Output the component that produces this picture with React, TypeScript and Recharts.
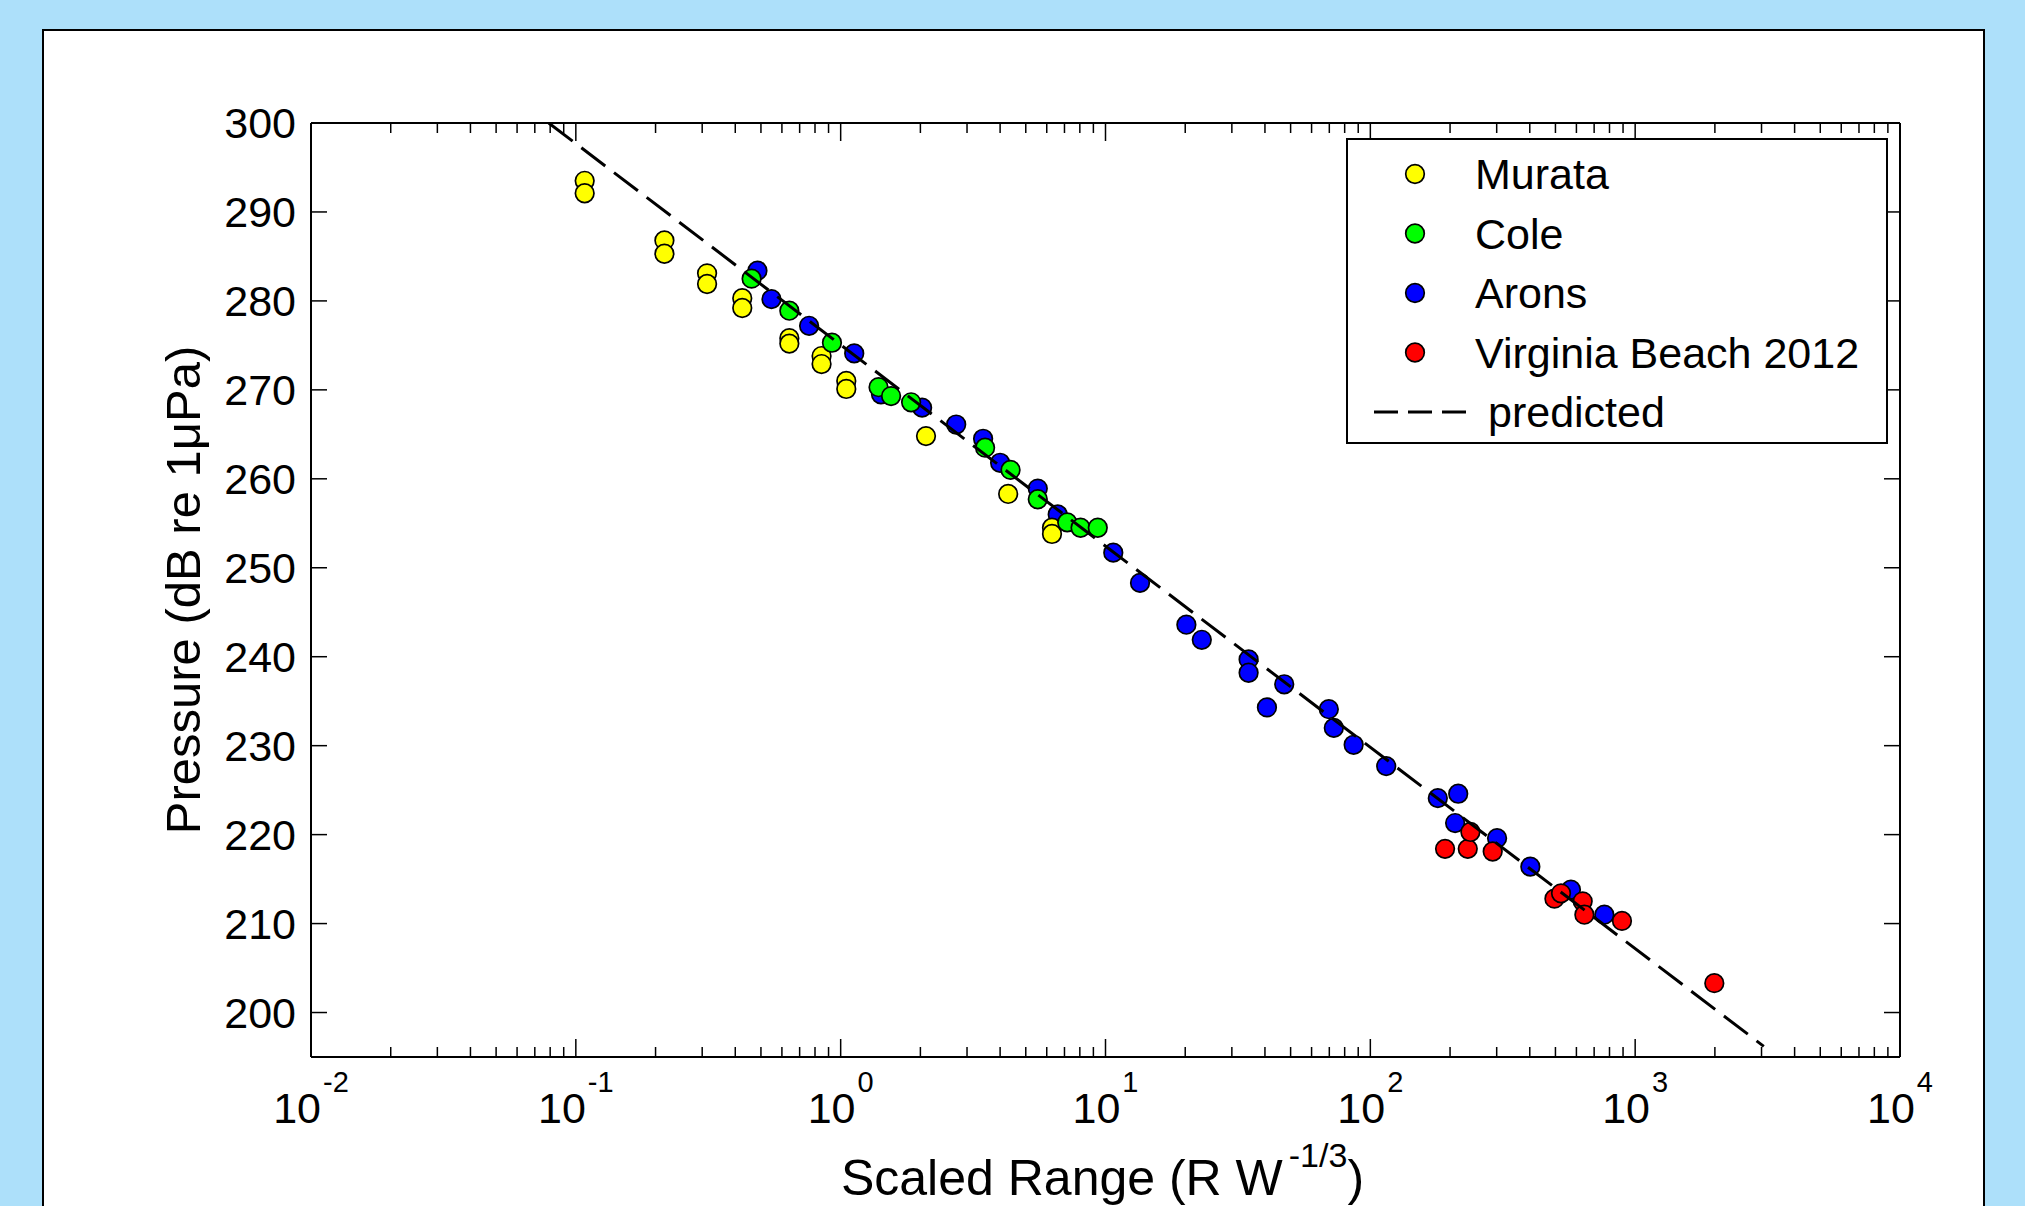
import React from 'react';
import { ScatterChart, Scatter, XAxis, YAxis, Legend } from 'recharts';

// ---------- data ----------
const murataX = [0.108, 0.108, 0.216, 0.216, 0.313, 0.313, 0.425, 0.425, 0.64, 0.64, 0.847, 0.847, 1.05, 1.05, 2.1, 4.29, 6.28, 6.28];
const murataY = [293.5, 292.1, 286.8, 285.3, 283.1, 281.9, 280.3, 279.2, 275.8, 275.2, 273.8, 272.9, 271.0, 270.1, 264.8, 258.3, 254.5, 253.8];

const coleX = [0.461, 0.64, 0.927, 1.39, 1.55, 1.845, 3.51, 4.38, 5.55, 7.17, 8.05, 9.35];
const coleY = [282.5, 278.9, 275.3, 270.3, 269.3, 268.6, 263.5, 261.0, 257.7, 255.1, 254.5, 254.5];

const aronsX = [0.485, 0.548, 0.76, 1.125, 1.42, 2.03, 2.73, 3.45, 4.0, 5.55, 6.6, 10.7, 13.5, 20.2, 23.1, 34.7, 34.7, 40.7, 47.3, 69.7, 72.8, 86.5, 114.8, 179.8, 214.7, 209, 301, 402, 572, 765];
const aronsY = [283.4, 280.2, 277.2, 274.1, 269.5, 268.0, 266.1, 264.5, 261.8, 258.9, 256.0, 251.7, 248.3, 243.6, 241.9, 239.7, 238.2, 234.3, 236.9, 234.1, 232.0, 230.1, 227.7, 224.1, 224.6, 221.3, 219.6, 216.4, 213.8, 211.0];

const vbX = [191.5, 233.3, 238.7, 289.8, 495.6, 524.8, 633.6, 643, 891.6, 1990];
const vbY = [218.4, 218.4, 220.3, 218.1, 212.8, 213.4, 212.5, 211.0, 210.3, 203.3];

const predictedX = [0.079, 3060];
const predictedY = [300.0, 196.2];

const seriesNames = ['Murata', 'Cole', 'Arons', 'Virginia Beach 2012'];
const seriesColors = ['#FFFF00', '#00FF00', '#0000FF', '#FF0000'];
const predictedName = 'predicted';

const xDomain: [number, number] = [0.01, 10000];
const yDomain: [number, number] = [195, 300];
const xDecades = [-2, -1, 0, 1, 2, 3];
const xMinorMultipliers = [1, 2, 3, 4, 5, 6, 7, 8, 9];
const yTicks = [200, 210, 220, 230, 240, 250, 260, 270, 280, 290, 300];

const xLabelMain = 'Scaled Range (R W';
const xLabelSup = '-1/3';
const xLabelEnd = ')';
const yLabel = 'Pressure (dB re 1\u03BCPa)';

// ---------- derived ----------
const toPoints = (xs: number[], ys: number[]) => xs.map((x, i) => ({ x, y: ys[i] }));
const murata = toPoints(murataX, murataY);
const cole = toPoints(coleX, coleY);
const arons = toPoints(aronsX, aronsY);
const vb = toPoints(vbX, vbY);
const predicted = toPoints(predictedX, predictedY);

const xTicks: number[] = [];
xDecades.forEach((d) => xMinorMultipliers.forEach((m) => xTicks.push(Number((m * Math.pow(10, d)).toPrecision(6)))));
xTicks.push(xDomain[1]);

const FONT = '"Liberation Sans", Arial, Helvetica, sans-serif';
const TICK_FS = 43;

const isMajor = (v: number) => {
  const l = Math.log10(v);
  return Math.abs(l - Math.round(l)) < 1e-6;
};

const BottomTick = (props: any) => {
  const { x, y, payload } = props;
  const v = payload.value;
  const major = isMajor(v);
  const exp = Math.round(Math.log10(v));
  return (
    <g>
      <line x1={x} x2={x} y1={y} y2={y - (major ? 18 : 10)} stroke="#000" strokeWidth={1.5} />
      {major && (
        <text x={x} y={y + 66} textAnchor="middle" fontFamily={FONT} fontSize={TICK_FS} fill="#000">
          <tspan>10</tspan>
          <tspan dx={2} dy={-31} fontSize={29}>{String(exp)}</tspan>
        </text>
      )}
    </g>
  );
};

const TopTick = (props: any) => {
  const { x, y, payload } = props;
  const major = isMajor(payload.value);
  return <line x1={x} x2={x} y1={y} y2={y + (major ? 18 : 10)} stroke="#000" strokeWidth={1.5} />;
};

const LeftTick = (props: any) => {
  const { x, y, payload } = props;
  return (
    <g>
      <line x1={x} x2={x + 16} y1={y} y2={y} stroke="#000" strokeWidth={1.5} />
      <text x={x - 15} y={y} dy="0.36em" textAnchor="end" fontFamily={FONT} fontSize={TICK_FS} fill="#000">
        {payload.value}
      </text>
    </g>
  );
};

const RightTick = (props: any) => {
  const { x, y } = props;
  return <line x1={x} x2={x - 16} y1={y} y2={y} stroke="#000" strokeWidth={1.5} />;
};

const XLabel = (props: any) => {
  const vbx = props.viewBox || { x: 311, y: 1057, width: 1589, height: 1 };
  const cx = vbx.x + vbx.width / 2 - 3;
  const y = vbx.y + 138;
  return (
    <text x={cx} y={y} textAnchor="middle" fontFamily={FONT} fontSize={50} fill="#000">
      <tspan>{xLabelMain}</tspan>
      <tspan dx={6} dy={-28} fontSize={34}>{xLabelSup}</tspan>
      <tspan dy={28} fontSize={50}>{xLabelEnd}</tspan>
    </text>
  );
};

const YLabel = (props: any) => {
  const vby = props.viewBox || { x: 310, y: 123, width: 1, height: 934 };
  const x = vby.x - 110;
  const y = vby.y + vby.height / 2;
  return (
    <text x={x} y={y} transform={`rotate(-90, ${x}, ${y})`} textAnchor="middle" fontFamily={FONT} fontSize={49} fill="#000">
      {yLabel}
    </text>
  );
};

const makeDot = (color: string) => (props: any) => (
  <circle cx={props.cx} cy={props.cy} r={9.3} fill={color} stroke="#000" strokeWidth={1.7} />
);

const LegendBox = () => {
  const rowY = (i: number) => 36 + i * 59.5;
  return (
    <svg width={542} height={306} style={{ display: 'block', overflow: 'visible' }}>
      <rect x={1} y={1} width={540} height={304} fill="#fff" stroke="#000" strokeWidth={2} />
      {seriesNames.map((name, i) => (
        <g key={name}>
          <circle cx={69} cy={rowY(i)} r={9.3} fill={seriesColors[i]} stroke="#000" strokeWidth={1.7} />
          <text x={129} y={rowY(i)} dy="0.36em" fontFamily={FONT} fontSize={43} fill="#000">
            {name}
          </text>
        </g>
      ))}
      <line x1={28} x2={120} y1={rowY(4)} y2={rowY(4)} stroke="#000" strokeWidth={3} strokeDasharray="24 10" />
      <text x={142} y={rowY(4)} dy="0.36em" fontFamily={FONT} fontSize={43} fill="#000">
        {predictedName}
      </text>
    </svg>
  );
};

const axisLineStyle = { stroke: '#000', strokeWidth: 2 };

export default function App() {
  return (
    <div style={{ position: 'absolute', left: 0, top: 0, width: 2025, height: 1206, background: '#ADE0FA', overflow: 'hidden' }}>
      <div
        style={{
          position: 'absolute',
          left: 42,
          top: 29,
          width: 1943,
          height: 1220,
          background: '#fff',
          border: '2px solid #000',
          boxSizing: 'border-box',
        }}
      />
      <div style={{ position: 'absolute', left: 0, top: 0 }}>
        <ScatterChart width={2025} height={1206} margin={{ top: 122, left: 310, right: 124, bottom: 148 }}>
          <XAxis
            dataKey="x"
            type="number"
            scale="log"
            domain={xDomain}
            allowDataOverflow
            ticks={xTicks}
            interval={0}
            height={1}
            tickSize={0}
            tickMargin={0}
            tickLine={false}
            axisLine={axisLineStyle}
            tick={<BottomTick />}
            label={<XLabel />}
          />
          <XAxis
            xAxisId="top"
            orientation="top"
            dataKey="x"
            type="number"
            scale="log"
            domain={xDomain}
            allowDataOverflow
            ticks={xTicks}
            interval={0}
            height={1}
            tickSize={0}
            tickMargin={0}
            tickLine={false}
            axisLine={axisLineStyle}
            tick={<TopTick />}
          />
          <YAxis
            dataKey="y"
            type="number"
            domain={yDomain}
            allowDataOverflow
            ticks={yTicks}
            interval={0}
            width={1}
            tickSize={0}
            tickMargin={0}
            tickLine={false}
            axisLine={axisLineStyle}
            tick={<LeftTick />}
            label={<YLabel />}
          />
          <YAxis
            yAxisId="right"
            orientation="right"
            dataKey="y"
            type="number"
            domain={yDomain}
            allowDataOverflow
            ticks={yTicks}
            interval={0}
            width={1}
            tickSize={0}
            tickMargin={0}
            tickLine={false}
            axisLine={axisLineStyle}
            tick={<RightTick />}
          />
          <Scatter name={seriesNames[2]} data={arons} fill={seriesColors[2]} shape={makeDot(seriesColors[2])} isAnimationActive={false} />
          <Scatter name={seriesNames[0]} data={murata} fill={seriesColors[0]} shape={makeDot(seriesColors[0])} isAnimationActive={false} />
          <Scatter name={seriesNames[1]} data={cole} fill={seriesColors[1]} shape={makeDot(seriesColors[1])} isAnimationActive={false} />
          <Scatter name={seriesNames[3]} data={vb} fill={seriesColors[3]} shape={makeDot(seriesColors[3])} isAnimationActive={false} />
          <Scatter
            name={predictedName}
            data={predicted}
            xAxisId="top"
            yAxisId="right"
            fill="#000"
            line={{ stroke: '#000', strokeWidth: 3, strokeDasharray: '30 11' }}
            shape={() => <g />}
            isAnimationActive={false}
          />
          <Legend
            layout="vertical"
            align="center"
            verticalAlign="middle"
            wrapperStyle={{ left: 1346, top: 138, width: 542, height: 306 }}
            content={() => <LegendBox />}
          />
        </ScatterChart>
      </div>
    </div>
  );
}
